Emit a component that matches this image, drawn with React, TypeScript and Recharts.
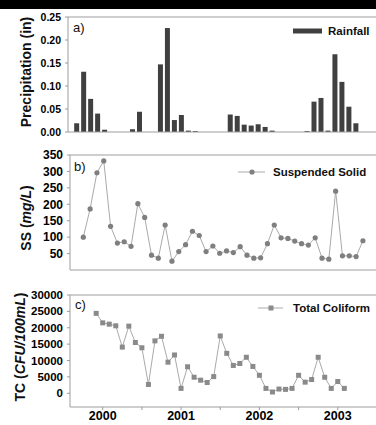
import React from "react"
import { Bar, BarChart, Legend, Line, LineChart, XAxis, YAxis } from "recharts"

// monthly samples
const rainfall = [
  0.019, 0.131, 0.072, 0.04, 0.005, 0, 0, 0, 0.006, 0.044, 0, 0, 0.147, 0.226,
  0.026, 0.037, 0.003, 0.002, 0, 0, 0, 0, 0.038, 0.035, 0.016, 0.014, 0.017,
  0.011, 0.003, 0, 0, 0, 0, 0.002, 0.066, 0.074, 0.003, 0.169, 0.109, 0.055,
  0.019,
]
const suspendedSolid = [
  100, 186, 296, 332, 133, 82, 86, 72, 202, 160, 45, 36, 137, 27, 56, 77, 118,
  105, 56, 73, 51, 58, 53, 71, 45, 36, 37, 80, 137, 98, 96, 88, 80, 76, 98, 36,
  33, 240, 43, 43, 41, 89,
]
const totalColiform = [
  24400, 21500, 21100, 20600, 14100, 20500, 15500, 13900, 2700, 16000, 17400,
  9500, 11700, 1500, 8100, 4900, 4000, 3300, 5100, 17500, 12200, 8500, 9100,
  11000, 8200, 5500, 1500, 400, 1300, 1200, 1500, 5500, 3400, 4200, 11000, 4900,
  1500, 3600, 1500,
]
const yearLabels = ["2000", "2001", "2002", "2003"]
const yearTicks = [1, 13, 25, 37]
const tcMonthTicks = [1, 7, 13, 19, 25, 31, 37, 43]
const monthTicks = [4, 10, 16, 22, 28, 34, 40]
const rainTicks = [0, 0.05, 0.1, 0.15, 0.2, 0.25]
const ssTicks = [50, 100, 150, 200, 250, 300, 350]
const tcTicks = [0, 5000, 10000, 15000, 20000, 25000, 30000]

const rainData = rainfall.map((v, i) => ({ i, v }))
const ssData = suspendedSolid.map((v, i) => ({ i, v }))
const tcData = totalColiform.map((v, i) => ({ i, v }))

const font = "'Liberation Sans', Arial, sans-serif"
const gray = "#9d9d9d"
const tickStyle = { fill: "#000", fontSize: 12, fontWeight: "bold", fontFamily: font }

function yTitle(parts: { t: string; it?: boolean }[], cx: number, cy: number) {
  return () => (
    <text
      x={cx}
      y={cy}
      transform={`rotate(-90 ${cx} ${cy})`}
      textAnchor="middle"
      dominantBaseline="central"
      fontFamily={font}
      fontWeight="bold"
      fontSize={14}
      fill="#111"
    >
      {parts.map((p, k) => (
        <tspan key={k} fontStyle={p.it ? "italic" : "normal"}>
          {p.t}
        </tspan>
      ))}
    </text>
  )
}

function legendBox(glyph: React.ReactNode, w: number, gap: number, text: string) {
  return () => (
    <div
      style={{
        display: "flex",
        alignItems: "center",
        fontFamily: font,
        fontWeight: "bold",
        fontSize: 11.5,
        color: "#111",
        whiteSpace: "nowrap",
        lineHeight: "14px",
      }}
    >
      <svg width={w} height={14}>
        {glyph}
      </svg>
      <span style={{ marginLeft: gap }}>{text}</span>
    </div>
  )
}

const panelLetter = (s: string, left: number, top: number) => (
  <div
    style={{
      position: "absolute",
      left,
      top,
      fontFamily: font,
      fontSize: 13,
      lineHeight: "14px",
      color: "#111",
    }}
  >
    {s}
  </div>
)

const squareDot = (p: any) => (
  <rect key={p.index} x={p.cx - 2.5} y={p.cy - 2.5} width={5} height={5} fill="#8a8a8a" />
)

export default function App() {
  return (
    <div
      style={{
        position: "absolute",
        left: 0,
        top: 0,
        width: 376,
        height: 425,
        overflow: "hidden",
        background: "#fff",
      }}
    >
      <style>{"html,body{margin:0;overflow:hidden}"}</style>
      <div style={{ position: "absolute", left: 0, top: 0 }}>
        <BarChart width={390} height={140} data={rainData} margin={{ top: 0, right: 0, bottom: 0, left: 0 }}>
          <XAxis xAxisId="top" orientation="top" type="number" dataKey="i" domain={[-1.242, 44.89]} height={17} tick={false} tickLine={false} axisLine={{ stroke: gray }} />
          <XAxis type="number" dataKey="i" domain={[-1.242, 44.89]} height={8} ticks={monthTicks} interval={0} tick={false} tickSize={3} tickLine={{ stroke: gray }} axisLine={{ stroke: gray }} />
          <YAxis
            width={68}
            domain={[0, 0.25]}
            ticks={rainTicks}
            interval={0}
            tickFormatter={(v: number) => v.toFixed(2)}
            tick={{ ...tickStyle, fontSize: 10.5 }}
            tickSize={3}
            tickMargin={4}
            tickLine={{ stroke: gray }}
            axisLine={{ stroke: gray }}
            label={yTitle([{ t: "Precipitation (in)" }], 26, 72)}
          />
          <Legend
            layout="vertical"
            align="center"
            verticalAlign="middle"
            wrapperStyle={{ top: 24, left: 293, width: "auto" }}
            content={legendBox(<rect x={0} y={4.5} width={29} height={5} fill="#404040" />, 29, 6, "Rainfall")}
          />
          <Bar dataKey="v" fill="#404040" barSize={5} isAnimationActive={false} />
        </BarChart>
      </div>

      <div style={{ position: "absolute", left: 0, top: 140 }}>
        <LineChart width={390} height={140} data={ssData} margin={{ top: 0, right: 0, bottom: 0, left: 0 }}>
          <XAxis xAxisId="top" orientation="top" type="number" dataKey="i" domain={[-1.95, 44.97]} height={15} tick={false} tickLine={false} axisLine={{ stroke: gray }} />
          <XAxis type="number" dataKey="i" domain={[-1.95, 44.97]} height={10} ticks={monthTicks} interval={0} tick={false} tickSize={3} tickLine={{ stroke: gray }} axisLine={{ stroke: gray }} />
          <YAxis
            width={70}
            domain={[0, 350]}
            ticks={ssTicks}
            interval={0}
            tick={tickStyle}
            tickSize={3}
            tickMargin={4}
            tickLine={{ stroke: gray }}
            axisLine={{ stroke: gray }}
            label={yTitle([{ t: "SS (" }, { t: "mg/L", it: true }, { t: ")" }], 26, 78)}
          />
          <Legend
            layout="vertical"
            align="center"
            verticalAlign="middle"
            wrapperStyle={{ top: 25, left: 238, width: "auto" }}
            content={legendBox(
              <g>
                <line x1={0} y1={7} x2={27} y2={7} stroke="#aaa" />
                <circle cx={14} cy={7} r={2.6} fill="#7f7f7f" />
              </g>,
              27,
              8,
              "Suspended Solid"
            )}
          />
          <Line
            dataKey="v"
            stroke="#aaa"
            strokeWidth={1}
            dot={{ r: 2.6, fill: "#7f7f7f", stroke: "#7f7f7f", strokeWidth: 0 }}
            isAnimationActive={false}
          />
        </LineChart>
      </div>

      <div style={{ position: "absolute", left: 0, top: 280 }}>
        <LineChart width={390} height={145} data={tcData} margin={{ top: 0, right: 0, bottom: 0, left: 0 }}>
          <XAxis xAxisId="top" orientation="top" type="number" dataKey="i" domain={[-4.01, 45]} height={15} tick={false} tickLine={false} axisLine={{ stroke: gray }} />
          <XAxis
            type="number"
            dataKey="i"
            domain={[-4.01, 45]}
            height={18}
            ticks={tcMonthTicks}
            interval={0}
            tickFormatter={(v: number) => {
              const k = yearTicks.indexOf(v)
              return k >= 0 ? yearLabels[k] : ""
            }}
            tick={{ ...tickStyle, fontSize: 12.5 }}
            tickSize={3}
            tickMargin={1}
            tickLine={{ stroke: gray }}
            axisLine={{ stroke: gray }}
          />
          <YAxis
            width={70}
            domain={[-4180, 30000]}
            allowDataOverflow
            ticks={tcTicks}
            interval={0}
            tick={{ ...tickStyle, fontSize: 11.5 }}
            tickSize={3}
            tickMargin={4}
            tickLine={{ stroke: gray }}
            axisLine={{ stroke: gray }}
            label={yTitle([{ t: "TC (" }, { t: "CFU/100mL", it: true }, { t: ")" }], 20, 67)}
          />
          <Legend
            layout="vertical"
            align="center"
            verticalAlign="middle"
            wrapperStyle={{ top: 21, left: 258, width: "auto" }}
            content={legendBox(
              <g>
                <line x1={0} y1={7} x2={25} y2={7} stroke="#aaa" />
                <rect x={10.5} y={4.5} width={5} height={5} fill="#8a8a8a" />
              </g>,
              25,
              10,
              "Total Coliform"
            )}
          />
          <Line dataKey="v" stroke="#aaa" strokeWidth={1} dot={squareDot} isAnimationActive={false} />
        </LineChart>
      </div>

      {panelLetter("a)", 73, 21)}
      {panelLetter("b)", 74, 160)}
      {panelLetter("c)", 75, 298)}
      <div style={{ position: "absolute", left: 0, top: 0, width: 376, height: 9, background: "#000" }} />
    </div>
  )
}
